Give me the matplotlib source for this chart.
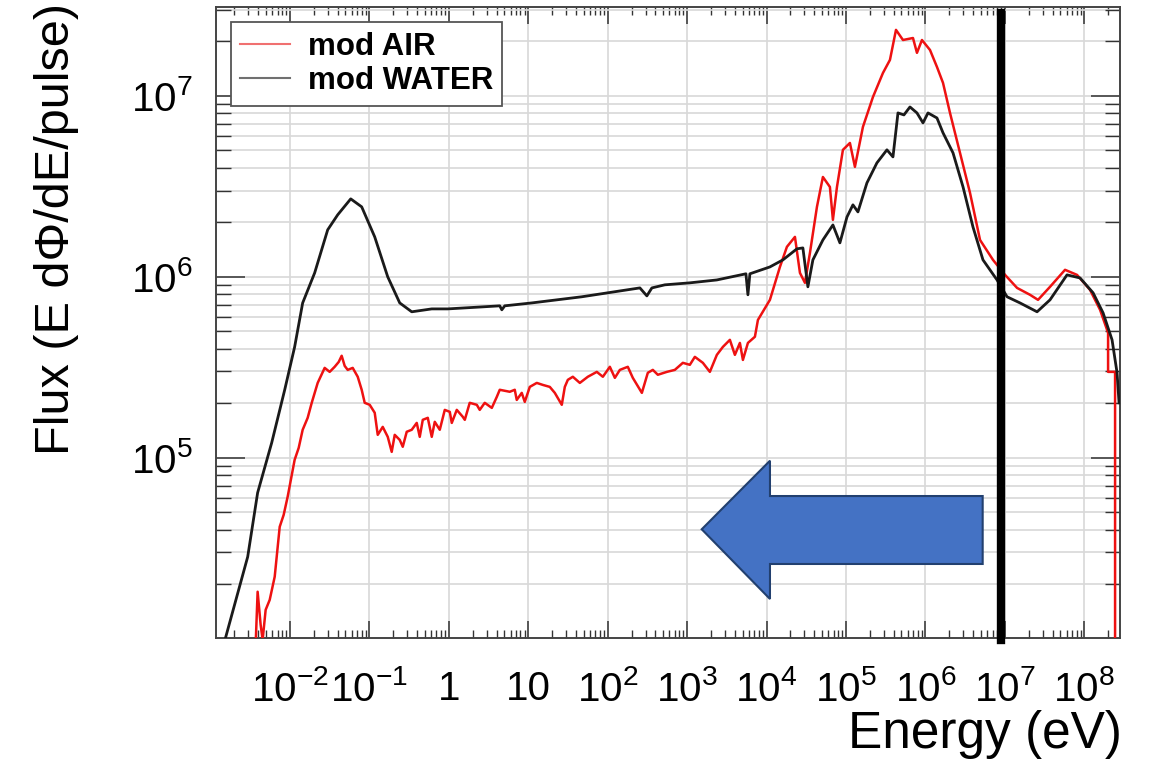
import numpy as np
import matplotlib
matplotlib.use('Agg')
import matplotlib.pyplot as plt
from matplotlib.patches import Polygon
from matplotlib.ticker import LogLocator, FuncFormatter, NullFormatter

plt.rcParams['font.family'] = ['Liberation Sans', 'DejaVu Sans']
plt.rcParams['mathtext.fontset'] = 'custom'
plt.rcParams['mathtext.rm'] = 'Liberation Sans'
plt.rcParams['mathtext.it'] = 'Liberation Sans:italic'
plt.rcParams['mathtext.bf'] = 'Liberation Sans:bold'

# log10 of energy (eV) and log10 of flux
water_logE = [-2.834, -2.531, -2.406, -2.229, -2.065, -1.940, -1.839, -1.688, -1.524, -1.398,
              -1.234, -1.096, -0.932, -0.768, -0.617, -0.466, -0.214, -0.013, 0.416, 0.642,
              0.668, 0.705, 1.045, 1.675, 2.406, 2.494, 2.557, 2.720, 3.035, 3.375,
              3.741, 3.766, 3.791, 4.043, 4.207, 4.383, 4.458, 4.521, 4.584, 4.710,
              4.836, 4.924, 5.013, 5.088, 5.151, 5.264, 5.390, 5.516, 5.592, 5.655,
              5.730, 5.806, 5.894, 5.970, 6.033, 6.146, 6.222, 6.348, 6.474, 6.599,
              6.725, 6.902, 7.028, 7.191, 7.406, 7.569, 7.783, 7.947, 8.111, 8.237,
              8.350, 8.413, 8.438]
water_logF = [3.967, 4.453, 4.807, 5.083, 5.376, 5.613, 5.856, 6.022, 6.260, 6.343,
              6.431, 6.387, 6.221, 6.000, 5.856, 5.807, 5.823, 5.823, 5.834, 5.840,
              5.818, 5.840, 5.856, 5.890, 5.939, 5.895, 5.939, 5.956, 5.967, 5.983,
              6.017, 5.901, 6.017, 6.055, 6.094, 6.155, 6.160, 5.945, 6.094, 6.204,
              6.287, 6.188, 6.331, 6.398, 6.359, 6.519, 6.630, 6.702, 6.663, 6.906,
              6.895, 6.939, 6.906, 6.851, 6.906, 6.878, 6.796, 6.685, 6.497, 6.276,
              6.094, 5.983, 5.890, 5.856, 5.807, 5.873, 6.011, 5.994, 5.912, 5.801,
              5.652, 5.470, 5.304]

air_logE = [-2.431, -2.406, -2.368, -2.343, -2.305, -2.254, -2.191, -2.128, -2.078, -2.028,
            -1.940, -1.889, -1.839, -1.776, -1.725, -1.650, -1.562, -1.499, -1.436, -1.385,
            -1.348, -1.310, -1.272, -1.209, -1.146, -1.096, -1.058,
            -0.995, -0.932, -0.894, -0.831, -0.768, -0.718, -0.680, -0.617, -0.579, -0.529,
            -0.466, -0.403, -0.365, -0.327, -0.264, -0.214, -0.176, -0.113, -0.050, 0.013,
            0.038, 0.101, 0.176, 0.202, 0.264, 0.353, 0.390, 0.453, 0.542, 0.605,
            0.642, 0.768, 0.831, 0.856, 0.919, 0.957, 1.020, 1.108, 1.184, 1.272,
            1.335, 1.423, 1.461, 1.499, 1.562, 1.650, 1.751, 1.864, 1.940, 2.028,
            2.091, 2.154, 2.254, 2.317, 2.431, 2.506, 2.569, 2.632, 2.746, 2.846,
            2.947, 3.035, 3.098, 3.199, 3.287, 3.375, 3.451, 3.539, 3.602, 3.665,
            3.703, 3.766, 3.854, 3.892,
            4.043, 4.169, 4.257, 4.358, 4.421, 4.484, 4.547, 4.635, 4.710, 4.798,
            4.836, 4.887, 4.962, 5.050, 5.113, 5.214, 5.340, 5.466, 5.554, 5.630,
            5.718, 5.844, 5.894, 5.957, 6.058, 6.146, 6.222, 6.310, 6.436, 6.562,
            6.688, 6.851, 7.003, 7.154, 7.317, 7.418, 7.569, 7.758, 7.909, 8.073,
            8.199, 8.300, 8.300, 8.388, 8.388]
air_logF = [3.967, 4.260, 4.077, 3.994, 4.160, 4.215, 4.343, 4.619, 4.685, 4.785,
            4.989, 5.055, 5.155, 5.221, 5.304, 5.414, 5.497, 5.475, 5.503, 5.530,
            5.564, 5.508, 5.486, 5.497, 5.448, 5.376, 5.304,
            5.293, 5.249, 5.127, 5.171, 5.116, 5.033, 5.127, 5.099, 5.061, 5.144,
            5.155, 5.193, 5.116, 5.210, 5.221, 5.116, 5.199, 5.155, 5.265, 5.254,
            5.193, 5.265, 5.227, 5.210, 5.304, 5.293, 5.265, 5.304, 5.276, 5.337,
            5.376, 5.365, 5.376, 5.320, 5.359, 5.309, 5.392, 5.414, 5.403, 5.392,
            5.359, 5.293, 5.392, 5.431, 5.448, 5.414, 5.448, 5.475, 5.448, 5.503,
            5.442, 5.486, 5.503, 5.442, 5.359, 5.470, 5.486, 5.459, 5.475, 5.486,
            5.525, 5.514, 5.558, 5.525, 5.475, 5.569, 5.613, 5.652, 5.569, 5.635,
            5.541, 5.635, 5.669, 5.762,
            5.873, 6.055, 6.166, 6.221, 6.022, 5.967, 6.133, 6.387, 6.552, 6.497,
            6.315, 6.497, 6.702, 6.740, 6.608, 6.829, 6.994, 7.127, 7.199, 7.365,
            7.309, 7.320, 7.238, 7.309, 7.254, 7.160, 7.072, 6.906, 6.685, 6.464,
            6.204, 6.094, 6.011, 5.939, 5.901, 5.873, 5.945, 6.039, 6.011, 5.928,
            5.818, 5.691, 5.475, 5.475, 3.663]

labels = ['mod AIR', 'mod WATER']
cut_energy = 9.0e6  # thick black marker line

fig = plt.figure(figsize=(11.53, 7.65), dpi=100)
ax = fig.add_axes([216/1153, 1 - 638/765, 904/1153, 631/765])

ax.plot(10**np.array(air_logE), 10**np.array(air_logF), color='#ee1111', lw=1.8, label=labels[0], zorder=3)
ax.plot(10**np.array(water_logE), 10**np.array(water_logF), color='#1a1a1a', lw=2.0, label=labels[1], zorder=3)

ax.set_xscale('log')
ax.set_yscale('log')
ax.set_xlim(10**-2.93, 10**8.45)
ax.set_ylim(1.01e4, 3.1e7)

ax.xaxis.set_major_locator(LogLocator(base=10, numticks=20))
ax.xaxis.set_minor_locator(LogLocator(base=10, subs=np.arange(2, 10), numticks=200))
ax.yaxis.set_major_locator(LogLocator(base=10, numticks=20))
ax.yaxis.set_minor_locator(LogLocator(base=10, subs=np.arange(2, 10), numticks=200))


def dec_fmt(v, pos):
    n = int(round(np.log10(v)))
    if n == 0:
        return '1'
    if n == 1:
        return '10'
    return r'$10^{%d}$' % n


ax.xaxis.set_major_formatter(FuncFormatter(dec_fmt))
ax.yaxis.set_major_formatter(FuncFormatter(dec_fmt))
ax.xaxis.set_minor_formatter(NullFormatter())
ax.yaxis.set_minor_formatter(NullFormatter())

ax.grid(which='major', axis='x', color='#d8d8d8', lw=1.2)
ax.grid(which='both', axis='y', color='#d8d8d8', lw=1.2)
ax.set_axisbelow(True)

ax.tick_params(which='both', direction='in', top=True, right=True, colors='#333333', labelcolor='black')
ax.tick_params(axis='x', which='major', length=12, width=1.1, labelsize=29, pad=23)
ax.tick_params(axis='x', which='minor', length=6, width=1.0)
ax.tick_params(axis='y', which='major', length=21, width=1.1, labelsize=29, pad=17)
ax.tick_params(axis='y', which='minor', length=11, width=1.0)
for s in ax.spines.values():
    s.set_color('#444444')
    s.set_linewidth(1.4)

leg = ax.legend(loc='upper left', bbox_to_anchor=(0.0166, 0.976), borderaxespad=0,
                prop={'weight': 'bold', 'size': 22.5}, handlelength=1.6, handletextpad=0.55,
                borderpad=0.3, labelspacing=0.15, fancybox=False, framealpha=1,
                edgecolor='#555555')
leg.get_frame().set_linewidth(1.3)
legend_colors = ['#f07070', '#707070']
for ln, c in zip(leg.get_lines(), legend_colors):
    ln.set_linewidth(1.5)
    ln.set_color(c)

# thick vertical marker
ax.axvline(cut_energy, ymin=-0.003, ymax=0.99, color='black', lw=6, clip_on=False, zorder=5)

# blue block arrow pointing left (axes fraction coordinates)
arrow_pts = [(0.5373, 0.1723), (0.6128, 0.2810), (0.6128, 0.2250), (0.8481, 0.2250),
             (0.8481, 0.1173), (0.6128, 0.1173), (0.6128, 0.0618)]
ax.add_patch(Polygon(arrow_pts, closed=True, transform=ax.transAxes, facecolor='#4472C4',
                     edgecolor='#22406f', lw=1.5, zorder=6))

fig.text(1122/1153, 1 - 748/765, 'Energy (eV)', ha='right', va='baseline', fontsize=37)
fig.text(57/1153, 1 - 3/765, 'Flux (E d\u03a6/dE/pulse)', rotation=90, ha='center', va='top', fontsize=35)

fig.savefig('out.png', dpi=100)
